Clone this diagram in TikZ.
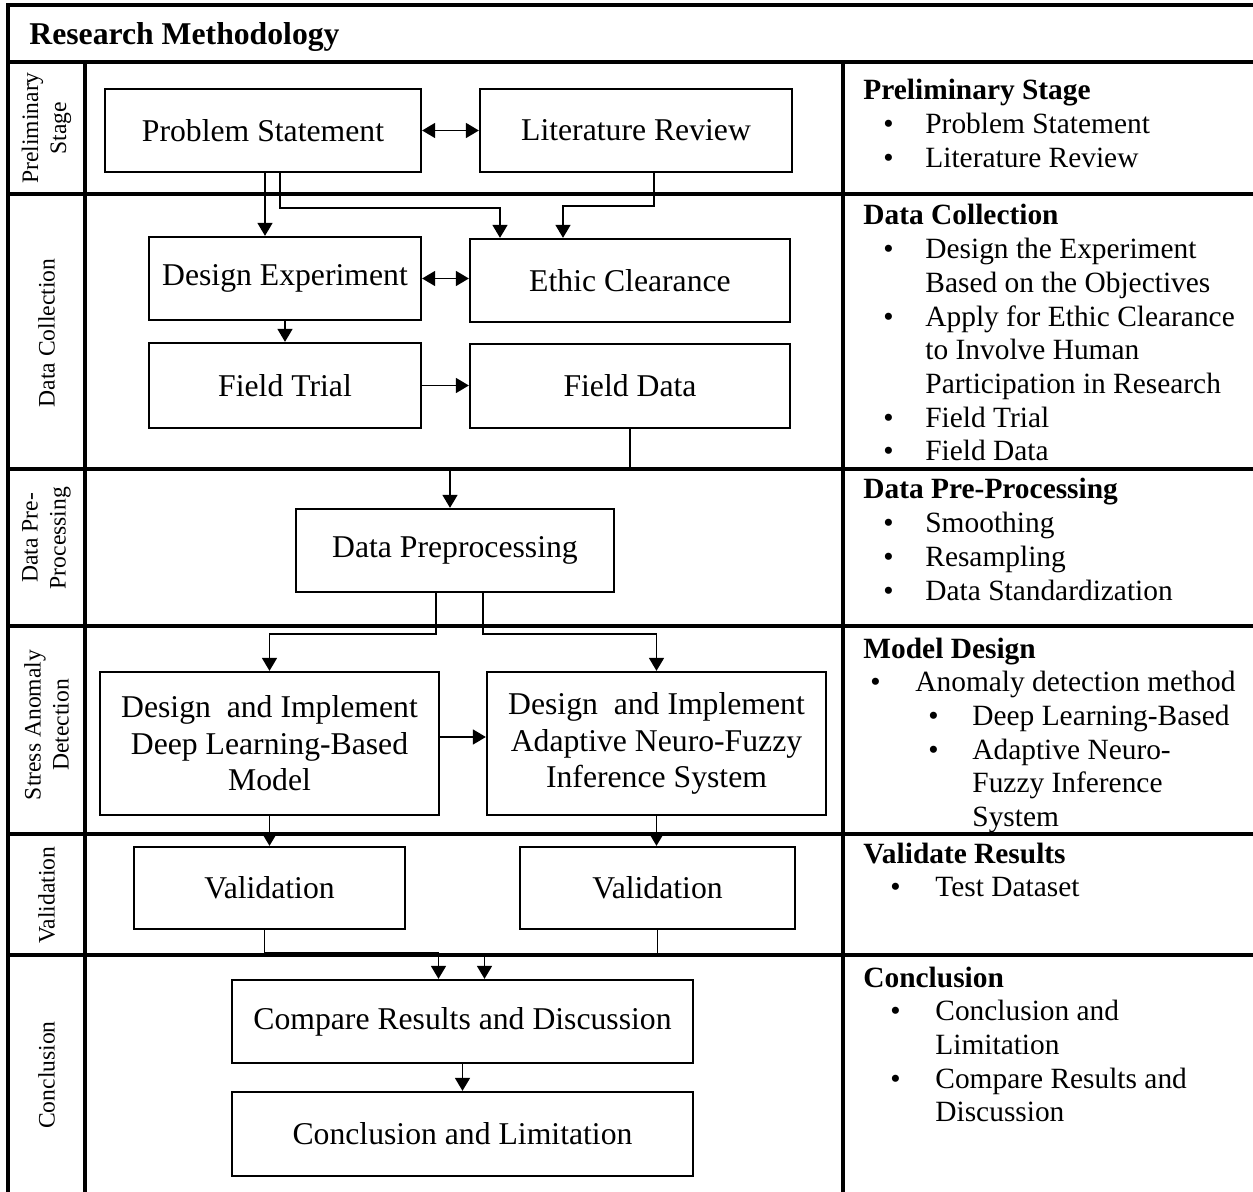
\documentclass[tikz,border=0pt]{standalone}
\usepackage{fontspec}
\setmainfont{Liberation Serif}
\usetikzlibrary{arrows.meta,calc}
% bullet placed #1 from the left edge, item text starting #2 after it
\newcommand\bl[2]{\hspace*{#1}\makebox[#2][l]{\textbullet}}

\begin{document}
\begin{tikzpicture}[x=0.5pt,y=-0.5pt,
  grid/.style={line width=1.75pt},
  box/.style={draw,line width=1.15pt,inner sep=0pt,align=center,
    font=\fontsize{15.85}{18.3}\selectfont},
  arr/.style={line width=0.85pt,-{Triangle[length=6.5pt,width=7.5pt]}},
  arrb/.style={line width=0.85pt,{Triangle[length=6.5pt,width=7.5pt]}-{Triangle[length=6.5pt,width=7.5pt]}},
  lab/.style={rotate=90,align=center,inner sep=0pt,font=\fontsize{11.8}{14}\selectfont},
  side/.style={anchor=base west,inner sep=0pt,font=\fontsize{14.7}{16.85}\selectfont}]

\fill[white] (0,0) rectangle (1253,1192);
\useasboundingbox (0,0) rectangle (1253,1192);

% table frame
\draw[grid] (8,1192) -- (8,5) -- (1253,5);
\foreach \yy in {62,194,469,626,834,955} \draw[grid] (8,\yy) -- (1253,\yy);
\draw[grid] (85,62) -- (85,1192);
\draw[grid] (843,62) -- (843,1192);

\node[anchor=base west,inner sep=0pt,font=\fontsize{15.85}{18}\selectfont\bfseries] (title) at (29,45) {Research Methodology};

% stage labels
\node[lab] (l1) at (46.5,128) {Preliminary\\Stage};
\node[lab] (l2) at (46.5,333) {Data Collection};
\node[lab] (l3) at (46.5,538) {Data Pre-\\Processing};
\node[lab] (l4) at (46.5,725) {Stress Anomaly\\Detection};
\node[lab] (l5) at (46.5,895) {Validation};
\node[lab] (l6) at (46.5,1075) {Conclusion};

% process boxes
\node[box,minimum width=158pt,minimum height=41.5pt] (ps) at (263,130.5) {Problem Statement};
\node[box,minimum width=156pt,minimum height=41.5pt] (lr) at (636,130.5) {Literature Review};
\node[box,minimum width=136pt,minimum height=41.5pt] (de) at (285,278.5) {\raisebox{-4pt}{Design Experiment}};
\node[box,minimum width=160pt,minimum height=41.5pt] (ec) at (630,280.5) {Ethic Clearance};
\node[box,minimum width=136pt,minimum height=42.5pt] (ft) at (285,385.5) {Field Trial};
\node[box,minimum width=160pt,minimum height=42pt] (fd) at (630,386) {Field Data};
\node[box,minimum width=159pt,minimum height=41.5pt] (dp) at (455,550.5) {Data Preprocessing};
\node[box,minimum width=169.5pt,minimum height=71.5pt] (dl) at (269.5,743.5) {Design\ \ and Implement\\Deep Learning-Based\\Model};
\node[box,minimum width=169.5pt,minimum height=71.5pt] (an) at (656.5,743.5) {Design\ \ and Implement\\Adaptive Neuro-Fuzzy\\Inference System};
\node[box,minimum width=135.5pt,minimum height=41pt] (v1) at (269.5,888) {Validation};
\node[box,minimum width=137.5pt,minimum height=41pt] (v2) at (657.5,888) {Validation};
\node[box,minimum width=230.5pt,minimum height=41.5pt] (cr) at (462.5,1021.5) {Compare Results and Discussion};
\node[box,minimum width=230.5pt,minimum height=42pt] (cl) at (462.5,1134) {Conclusion and Limitation};

% connectors
\draw[arrb] (ps.east) -- (lr.west);
\draw[arr] ([xshift=1pt]ps.south) -- ([xshift=1pt]ps.south |- de.north);
\draw[arr] ([xshift=8.5pt]ps.south) -- ++(0,35) -| ([xshift=-65pt]ec.north);
\draw[arr] ([xshift=9pt]lr.south) -- ++(0,33) -| ([xshift=-33.5pt]ec.north);
\draw[arrb] (de.east) -- (de.east -| ec.west);
\draw[arr] (de.south) -- (de.south |- ft.north);
\draw[arr] (ft.east) -- (ft.east -| fd.west);
\draw[arr] (fd.south) -- ++(0,41) -| ([xshift=-2.5pt]dp.north);
\draw[arr] ([xshift=-9.5pt]dp.south) -- ++(0,41) -| (dl.north);
\draw[arr] ([xshift=14pt]dp.south) -- ++(0,41) -| (an.north);
\draw[arr] ([yshift=3.25pt]dl.east) -- ([yshift=3.25pt]dl.east -| an.west);
\draw[arr] (dl.south) -- (dl.south |- v1.north);
\draw[arr] (an.south) -- (an.south |- v2.north);
\draw[arr] ([xshift=-2.5pt]v1.south) -- ++(0,23) -| ([xshift=-12pt]cr.north);
\draw[arr] (v2.south) -- ++(0,24) -| ([xshift=11pt]cr.north);
\draw[arr] (cr.south) -- (cl.north);

% stage summaries
\node[side] (s1) at (863,100) {\begin{tabular}[t]{@{}l@{}}
  \textbf{Preliminary Stage}\\
  \bl{10pt}{21pt}Problem Statement\\
  \bl{10pt}{21pt}Literature Review
\end{tabular}};
\node[side] (s2) at (863,225) {\begin{tabular}[t]{@{}l@{}}
  \textbf{Data Collection}\\
  \bl{10pt}{21pt}Design the Experiment\\
  \hspace*{31pt}Based on the Objectives\\
  \bl{10pt}{21pt}Apply for Ethic Clearance\\
  \hspace*{31pt}to Involve Human\\
  \hspace*{31pt}Participation in Research\\
  \bl{10pt}{21pt}Field Trial\\
  \bl{10pt}{21pt}Field Data
\end{tabular}};
\node[side] (s3) at (863,499) {\begin{tabular}[t]{@{}l@{}}
  \textbf{Data Pre-Processing}\\
  \bl{10pt}{21pt}Smoothing\\
  \bl{10pt}{21pt}Resampling\\
  \bl{10pt}{21pt}Data Standardization
\end{tabular}};
\node[side] (s4) at (863,658) {\begin{tabular}[t]{@{}l@{}}
  \textbf{Model Design}\\
  \bl{3.5pt}{22.5pt}Anomaly detection method\\
  \bl{32.5pt}{22pt}Deep Learning-Based\\
  \bl{32.5pt}{22pt}Adaptive Neuro-\\
  \hspace*{54.5pt}Fuzzy Inference\\
  \hspace*{54.5pt}System
\end{tabular}};
\node[side] (s5) at (863,863) {\begin{tabular}[t]{@{}l@{}}
  \textbf{Validate Results}\\
  \bl{13.5pt}{22.5pt}Test Dataset
\end{tabular}};
\node[side] (s6) at (863,987) {\begin{tabular}[t]{@{}l@{}}
  \textbf{Conclusion}\\
  \bl{13.5pt}{22.5pt}Conclusion and\\
  \hspace*{36pt}Limitation\\
  \bl{13.5pt}{22.5pt}Compare Results and\\
  \hspace*{36pt}Discussion
\end{tabular}};
\end{tikzpicture}
\end{document}
